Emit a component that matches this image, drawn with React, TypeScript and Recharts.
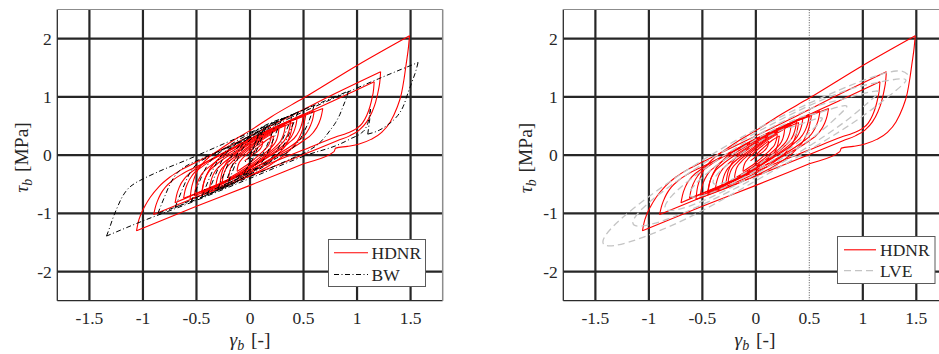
import React from 'react';
import { LineChart, Line, XAxis, YAxis, CartesianGrid, ReferenceLine } from 'recharts';

type Pt = [number, number];

// Axis setup
const xTicks = [-1.5, -1, -0.5, 0, 0.5, 1, 1.5];
const yTicks = [-2, -1, 0, 1, 2];
const xDomain: [number, number] = [-1.8, 1.8];
const yDomain: [number, number] = [-2.5, 2.5];

// HDNR response (gamma_b, tau_b), in time order
const hdnrGrowing: Pt[] = [
  [0, 0], [0.08, 0.14], [0.15, 0.25], [0.22, 0.33],
  [0.21, 0.22], [0.19, 0.1], [0.15, -0.01], [0.07, -0.14], [-0.09, -0.32], [-0.28, -0.48],
  [-0.266, -0.33], [-0.239, -0.19], [-0.185, -0.04], [-0.076, 0.12], [0.142, 0.35], [0.4, 0.56],
  [0.383, 0.39], [0.349, 0.22], [0.281, 0.05], [0.145, -0.15], [-0.127, -0.42], [-0.45, -0.66],
  [-0.431, -0.47], [-0.392, -0.29], [-0.314, -0.1], [-0.159, 0.12], [0.151, 0.41], [0.52, 0.68],
  [0.498, 0.48], [0.455, 0.28], [0.369, 0.08], [0.196, -0.16], [-0.15, -0.47], [-0.56, -0.76],
];

const hdnrLarge: Pt[] = [
  [-0.55, -0.6], [-0.53, -0.45], [-0.5, -0.3], [-0.45, -0.16], [-0.38, -0.03], [-0.28, 0.1],
  [-0.15, 0.26], [0, 0.42], [0.2, 0.66], [0.5, 0.98], [1.0, 1.54], [1.49, 2.05],
  [1.48, 1.85], [1.46, 1.58], [1.44, 1.32], [1.415, 1.06], [1.37, 0.8], [1.31, 0.57], [1.23, 0.39],
  [1.13, 0.27], [1.02, 0.19], [0.91, 0.15], [0.8, 0.12], [0.785, 0.06], [0.5, -0.15], [0, -0.52],
  [-0.5, -0.88], [-1.06, -1.3],
  [-1.045, -1.16], [-1.02, -1.02], [-0.98, -0.87], [-0.93, -0.72], [-0.85, -0.54], [-0.75, -0.38],
  [-0.62, -0.23], [-0.48, -0.1], [-0.3, 0.06], [0, 0.33], [0.4, 0.69], [0.8, 1.06], [1.22, 1.43],
  [1.215, 1.3], [1.2, 1.12], [1.175, 0.92], [1.14, 0.74], [1.09, 0.57], [1.02, 0.43], [0.93, 0.33],
  [0.82, 0.25], [0.5, 0.01], [0, -0.36], [-0.5, -0.72], [-0.9, -1.02],
  [-0.885, -0.9], [-0.865, -0.79], [-0.835, -0.67], [-0.79, -0.55], [-0.72, -0.43], [-0.63, -0.32],
  [-0.5, -0.2], [-0.3, -0.02], [0, 0.25], [0.4, 0.61], [0.8, 0.95], [1.16, 1.26],
  [1.155, 1.14], [1.14, 0.98], [1.12, 0.83], [1.09, 0.68], [1.05, 0.55], [0.99, 0.45], [0.91, 0.38],
  [0.8, 0.31], [0.5, 0.09], [0, -0.28], [-0.4, -0.58], [-0.7, -0.82],
];

const hdnrDecay: Pt[] = [
  [-0.686, -0.69], [-0.659, -0.545], [-0.603, -0.383], [-0.493, -0.221], [-0.217, 0.071], [0.197, 0.444], [0.68, 0.8],
  [0.667, 0.677], [0.641, 0.538], [0.589, 0.384], [0.485, 0.23], [0.225, -0.047], [-0.165, -0.401], [-0.62, -0.74],
  [-0.608, -0.62], [-0.583, -0.485], [-0.535, -0.335], [-0.437, -0.185], [-0.193, 0.085], [0.173, 0.43], [0.6, 0.76],
  [0.589, 0.643], [0.566, 0.512], [0.522, 0.366], [0.432, 0.22], [0.208, -0.043], [-0.128, -0.379], [-0.52, -0.7],
  [-0.51, -0.588], [-0.489, -0.462], [-0.449, -0.322], [-0.367, -0.182], [-0.163, 0.07], [0.143, 0.392], [0.5, 0.7],
  [0.491, 0.593], [0.472, 0.472], [0.434, 0.338], [0.358, 0.204], [0.168, -0.037], [-0.117, -0.345], [-0.45, -0.64],
  [-0.441, -0.538], [-0.423, -0.422], [-0.388, -0.294], [-0.316, -0.166], [-0.138, 0.064], [0.129, 0.358], [0.44, 0.64],
  [0.432, 0.541], [0.415, 0.429], [0.383, 0.305], [0.317, 0.181], [0.153, -0.042], [-0.093, -0.327], [-0.38, -0.6],
  [-0.372, -0.506], [-0.357, -0.399], [-0.327, -0.281], [-0.266, -0.163], [-0.114, 0.049], [0.114, 0.32], [0.38, 0.58],
  [0.373, 0.49], [0.359, 0.388], [0.331, 0.275], [0.275, 0.162], [0.135, -0.041], [-0.075, -0.301], [-0.32, -0.55],
  [-0.313, -0.464], [-0.3, -0.368], [-0.274, -0.261], [-0.222, -0.154], [-0.092, 0.039], [0.103, 0.285], [0.33, 0.52],
  [0.324, 0.44], [0.312, 0.35], [0.289, 0.25], [0.242, 0.15], [0.124, -0.03], [-0.053, -0.26], [-0.26, -0.48],
  [-0.255, -0.406], [-0.244, -0.322], [-0.223, -0.229], [-0.18, -0.136], [-0.074, 0.032], [0.085, 0.245], [0.27, 0.45],
  [0.265, 0.382], [0.256, 0.306], [0.237, 0.221], [0.2, 0.136], [0.106, -0.017], [-0.035, -0.213], [-0.2, -0.4],
  [-0.196, -0.339], [-0.188, -0.271], [-0.172, -0.195], [-0.14, -0.119], [-0.06, 0.018], [0.06, 0.193], [0.2, 0.36],
  [0.197, 0.309], [0.19, 0.251], [0.178, 0.187], [0.152, 0.123], [0.088, 0.008], [-0.008, -0.139], [-0.12, -0.28],
  [-0.118, -0.238], [-0.113, -0.192], [-0.103, -0.14], [-0.084, -0.088], [-0.036, 0.006], [0.036, 0.126], [0.12, 0.24],
  [0.115, 0.18], [0.1, 0.12], [0.07, 0.06], [0.02, 0], [-0.05, -0.1],
];

// Bouc-Wen model response
const bwGrowing: Pt[] = [
  [0, 0], [0.03, 0.14], [0.07, 0.29], [0.12, 0.42],
  [0.09, 0.28], [0.05, 0.1], [0, -0.12], [-0.05, -0.3], [-0.1, -0.42], [-0.17, -0.5], [-0.25, -0.57],
  [-0.22, -0.43], [-0.18, -0.25], [-0.14, -0.07], [-0.1, 0.09], [-0.05, 0.24], [0.02, 0.37], [0.1, 0.47], [0.2, 0.56], [0.3, 0.63],
  [0.27, 0.5], [0.23, 0.32], [0.19, 0.15], [0.15, -0.01], [0.1, -0.15], [0.04, -0.27], [-0.05, -0.38], [-0.2, -0.52], [-0.4, -0.68],
  [-0.37, -0.55], [-0.33, -0.37], [-0.29, -0.2], [-0.25, -0.05], [-0.2, 0.08], [-0.13, 0.19], [-0.04, 0.29], [0.1, 0.4], [0.25, 0.56], [0.45, 0.74],
  [0.42, 0.61], [0.38, 0.43], [0.34, 0.26], [0.3, 0.12], [0.25, -0.01], [0.18, -0.13], [0.08, -0.25], [-0.1, -0.42], [-0.3, -0.6], [-0.55, -0.8],
];

const bwLarge: Pt[] = [
  [-0.52, -0.67], [-0.48, -0.49], [-0.44, -0.32], [-0.4, -0.18], [-0.35, -0.06], [-0.28, 0.05], [-0.18, 0.15],
  [0, 0.3], [0.4, 0.66], [0.8, 0.99], [1.2, 1.31], [1.57, 1.59],
  [1.55, 1.45], [1.52, 1.29], [1.48, 1.09], [1.43, 0.83], [1.38, 0.68], [1.34, 0.6], [1.28, 0.51], [1.21, 0.43], [1.1, 0.36],
  [1.11, 0.5], [1.12, 0.65], [1.125, 0.79],
  [1.11, 0.62], [1.08, 0.46], [1.04, 0.38], [0.95, 0.29], [0.84, 0.19], [0.53, 0], [0, -0.4], [-0.6, -0.85], [-1.0, -1.13], [-1.34, -1.39],
  [-1.31, -1.24], [-1.28, -1.08], [-1.24, -0.9], [-1.2, -0.74], [-1.15, -0.6], [-1.08, -0.49], [-1.0, -0.41], [-0.85, -0.28],
  [-0.6, -0.09], [-0.2, 0.23], [0.3, 0.62], [0.92, 1.1],
  [0.9, 0.98], [0.87, 0.84], [0.84, 0.7], [0.8, 0.56], [0.75, 0.43], [0.7, 0.31], [0.65, 0.21], [0.56, 0.09], [0.4, -0.05],
  [0, -0.37], [-0.5, -0.76], [-0.86, -1.0],
  [-0.83, -0.86], [-0.79, -0.68], [-0.75, -0.51], [-0.71, -0.38], [-0.66, -0.27], [-0.58, -0.17], [-0.45, -0.06], [-0.2, 0.14], [0.2, 0.53], [0.6, 0.86],
  [0.58, 0.74], [0.55, 0.58], [0.51, 0.42], [0.47, 0.28], [0.42, 0.16], [0.35, 0.05], [0.25, -0.05], [0, -0.3], [-0.35, -0.6], [-0.7, -0.9],
];

const bwDecay: Pt[] = [
  [-0.67, -0.76], [-0.63, -0.58], [-0.59, -0.41], [-0.55, -0.27], [-0.5, -0.16], [-0.42, -0.06], [-0.3, 0.05], [-0.1, 0.27], [0.15, 0.5], [0.4, 0.7],
  [0.37, 0.56], [0.33, 0.38], [0.29, 0.21], [0.25, 0.07], [0.2, -0.05], [0.12, -0.16], [0, -0.28], [-0.2, -0.5], [-0.45, -0.72],
  [-0.42, -0.58], [-0.38, -0.4], [-0.34, -0.23], [-0.3, -0.09], [-0.25, 0.03], [-0.17, 0.14], [-0.05, 0.26], [0.1, 0.42], [0.25, 0.58],
  [0.22, 0.44], [0.18, 0.26], [0.14, 0.09], [0.1, -0.05], [0.05, -0.17], [-0.03, -0.29], [-0.15, -0.43], [-0.3, -0.58],
  [-0.27, -0.44], [-0.23, -0.26], [-0.19, -0.09], [-0.15, 0.05], [-0.1, 0.16], [-0.03, 0.27], [0.05, 0.37], [0.15, 0.48],
  [0.12, 0.34], [0.08, 0.16], [0.04, -0.01], [0, -0.15], [-0.05, -0.27], [-0.12, -0.37], [-0.2, -0.45],
  [-0.17, -0.31], [-0.13, -0.13], [-0.09, 0.04], [-0.05, 0.16], [0, 0.26], [0.08, 0.35],
  [0.05, 0.21], [0.02, 0.06], [-0.01, -0.05], [-0.05, -0.12],
];

// Linear viscoelastic model response (elliptic cycles, decaying)
const lveOuter: Pt[] = [
  [1.42, 1.385], [1.312, 1.444], [1.004, 1.283], [0.543, 0.927], [0, 0.44], [-0.547, -0.144],
  [-1.011, -0.728], [-1.321, -1.2], [-1.43, -1.49], [-1.321, -1.553], [-1.011, -1.38], [-0.547, -0.997],
  [0, -0.44], [0.543, 0.134], [1.004, 0.676], [1.312, 1.115], [1.38, 1.31],
];
const lveMiddle: Pt[] = [
  [1.062, 1.217], [0.813, 1.091], [0.44, 0.798], [0, 0.383], [-0.44, -0.088], [-0.813, -0.547],
  [-1.062, -0.922], [-1.15, -1.158], [-1.062, -1.217], [-0.813, -1.091], [-0.44, -0.798], [0, -0.383],
  [0.44, 0.088], [0.813, 0.547], [1.062, 0.922], [1.12, 1.1],
  [0.785, 0.949], [0.601, 0.862], [0.325, 0.642], [0, 0.326], [-0.325, -0.04], [-0.601, -0.4],
  [-0.785, -0.7], [-0.85, -0.892], [-0.785, -0.949], [-0.601, -0.862], [-0.325, -0.642], [0, -0.326],
  [0.325, 0.04], [0.601, 0.4], [0.785, 0.7], [0.83, 0.85],
];
const lveInner: Pt[] = [
  [0.573, 0.72], [0.438, 0.662], [0.237, 0.503], [0, 0.267], [-0.237, -0.009], [-0.438, -0.284],
  [-0.573, -0.516], [-0.62, -0.669], [-0.573, -0.72], [-0.438, -0.662], [-0.237, -0.503], [0, -0.267],
  [0.237, 0.009], [0.438, 0.284], [0.573, 0.516], [0.6, 0.64],
  [0.37, 0.5], [0.283, 0.463], [0.153, 0.356], [0, 0.195], [-0.153, 0.004], [-0.283, -0.188],
  [-0.37, -0.351], [-0.4, -0.461], [-0.37, -0.5], [-0.283, -0.463], [-0.153, -0.356], [0, -0.195],
  [0.153, -0.004], [0.283, 0.188], [0.37, 0.351], [0.4, 0.461],
];

type XY = { x: number; y: number };

// Break a response path into its loading / unloading branches (x monotone each)
function toBranches(path: Pt[]): XY[][] {
  const out: XY[][] = [];
  let cur: Pt[] = [path[0]];
  let dir = 0;
  for (let i = 1; i < path.length; i++) {
    const step = Math.sign(path[i][0] - path[i - 1][0]);
    if (dir !== 0 && step !== 0 && step !== dir) {
      out.push(cur.map(([x, y]) => ({ x, y })));
      cur = [path[i - 1]];
    }
    if (step !== 0) dir = step;
    cur.push(path[i]);
  }
  out.push(cur.map(([x, y]) => ({ x, y })));
  return out;
}

const hdnrBranches = toBranches([...hdnrGrowing, ...hdnrLarge, ...hdnrDecay]);
const bwBranches = toBranches([...bwGrowing, ...bwLarge, ...bwDecay]);
const lvePath: XY[] = [...lveOuter, ...lveMiddle, ...lveInner].map(([x, y]) => ({ x, y }));

const FONT = '"Liberation Serif", "Times New Roman", Times, serif';
const INK = '#262626';
const AXIS = '#2b2b2b';
const FRAME = '#8c8c8c';
const RED = '#ff0000';
const LVE_GRAY = '#c4c4c4';

const XTick = (props: any) => {
  const { x, y, payload } = props;
  return (
    <text x={x} y={y + 23.5} textAnchor="middle" fontFamily={FONT} fontSize={17.5} fill={INK}>
      {String(payload.value)}
    </text>
  );
};

const YTick = (props: any) => {
  const { x, y, payload } = props;
  return (
    <text x={x - 5.5} y={y + 6} textAnchor="end" fontFamily={FONT} fontSize={17.5} fill={INK}>
      {String(payload.value)}
    </text>
  );
};

const H = 354;
// Reserved sizes for the axes; the plot box itself is placed by margin + these
const Y_AXIS_W = 40;
const X_AXIS_H = 30;
const FRAME_AXIS = 2;

const hdnrLines = (prefix: string) =>
  hdnrBranches.map((b, i) => (
    <Line
      key={prefix + i}
      data={b}
      dataKey="y"
      type="monotoneX"
      stroke={RED}
      strokeWidth={1.1}
      dot={false}
      activeDot={false}
      isAnimationActive={false}
    />
  ));

const leftMargin = { top: 9.5 - FRAME_AXIS, right: 27.3 - FRAME_AXIS, bottom: 53.3 - X_AXIS_H, left: 57.3 - Y_AXIS_W };
const rightMargin = { top: 9.5 - FRAME_AXIS, right: 11.6 - FRAME_AXIS, bottom: 53.3 - X_AXIS_H, left: 93.3 - Y_AXIS_W };

const AxisTitle = ({ sym, unit }: { sym: string; unit: string }) => (
  <>
    <tspan fontStyle="italic">{sym}</tspan>
    <tspan fontStyle="italic" fontSize={14} dy={4}>b</tspan>
    <tspan dy={-4} dx={2}>{' ' + unit}</tspan>
  </>
);

export default function App() {
  return (
    <div style={{ position: 'absolute', left: 0, top: 0, width: 939, height: H, background: '#fff', overflow: 'hidden' }}>
      {/* Left panel: HDNR vs BW */}
      <div style={{ position: 'absolute', left: 0, top: 0 }}>
        <LineChart width={470} height={H} margin={leftMargin}>
          <CartesianGrid stroke={INK} strokeWidth={2.2} verticalValues={xTicks} horizontalValues={yTicks} />
          <XAxis dataKey="x" type="number" domain={xDomain} ticks={xTicks} interval={0} allowDataOverflow height={X_AXIS_H}
            tickSize={0} tickMargin={0} tickLine={false} axisLine={{ stroke: AXIS, strokeWidth: 1.3 }} tick={<XTick />} />
          <YAxis type="number" domain={yDomain} ticks={yTicks} interval={0} allowDataOverflow width={Y_AXIS_W}
            tickSize={0} tickMargin={0} tickLine={false} axisLine={{ stroke: AXIS, strokeWidth: 1.3 }} tick={<YTick />} />
          <XAxis xAxisId="top" orientation="top" type="number" domain={xDomain} allowDataOverflow height={FRAME_AXIS}
            tick={false} tickLine={false} axisLine={{ stroke: FRAME, strokeWidth: 1 }} />
          <YAxis yAxisId="right" orientation="right" type="number" domain={yDomain} allowDataOverflow width={FRAME_AXIS}
            tick={false} tickLine={false} axisLine={{ stroke: FRAME, strokeWidth: 1.5 }} />
          {hdnrLines('hl')}
          {bwBranches.map((b, i) => (
            <Line key={'bw' + i} data={b} dataKey="y" type="monotoneX" stroke="#000" strokeWidth={1}
              strokeDasharray="5 2.5 1 2.5" dot={false} activeDot={false} isAnimationActive={false} />
          ))}
        </LineChart>
      </div>

      {/* Right panel: HDNR vs LVE */}
      <div style={{ position: 'absolute', left: 470, top: 0, width: 469, height: H, overflow: 'hidden' }}>
        <LineChart width={490} height={H} margin={rightMargin}>
          <CartesianGrid stroke={INK} strokeWidth={2.2} verticalValues={[-1.5, -1, -0.5, 0, 1, 1.5]} horizontalValues={yTicks} />
          <XAxis dataKey="x" type="number" domain={xDomain} ticks={xTicks} interval={0} allowDataOverflow height={X_AXIS_H}
            tickSize={0} tickMargin={0} tickLine={false} axisLine={{ stroke: AXIS, strokeWidth: 1.3 }} tick={<XTick />} />
          <YAxis type="number" domain={yDomain} ticks={yTicks} interval={0} allowDataOverflow width={Y_AXIS_W}
            tickSize={0} tickMargin={0} tickLine={false} axisLine={{ stroke: AXIS, strokeWidth: 1.3 }} tick={<YTick />} />
          <XAxis xAxisId="top" orientation="top" type="number" domain={xDomain} allowDataOverflow height={FRAME_AXIS}
            tick={false} tickLine={false} axisLine={{ stroke: FRAME, strokeWidth: 1 }} />
          <YAxis yAxisId="right" orientation="right" type="number" domain={yDomain} allowDataOverflow width={FRAME_AXIS}
            tick={false} tickLine={false} axisLine={{ stroke: FRAME, strokeWidth: 1.5 }} />
          <ReferenceLine x={0.5} stroke="#6a6a6a" strokeWidth={1.2} strokeDasharray="1 1.5" />
          {hdnrLines('hr')}
          <Line data={lvePath} dataKey="y" type="natural" stroke={LVE_GRAY} strokeWidth={1.3}
            strokeDasharray="7 4" dot={false} activeDot={false} isAnimationActive={false} />
        </LineChart>
      </div>

      {/* Axis titles and legends */}
      <svg width={939} height={H} style={{ position: 'absolute', left: 0, top: 0, pointerEvents: 'none' }}>
        <g fontFamily={FONT} fill={INK} fontSize={19.5}>
          <text x={250} y={346} textAnchor="middle"><AxisTitle sym="γ" unit="[-]" /></text>
          <text x={755} y={346} textAnchor="middle"><AxisTitle sym="γ" unit="[-]" /></text>
          <text transform="translate(28,157.5) rotate(-90)" textAnchor="middle"><AxisTitle sym="τ" unit="[MPa]" /></text>
          <text transform="translate(532,158) rotate(-90)" textAnchor="middle"><AxisTitle sym="τ" unit="[MPa]" /></text>
        </g>

        <g fontFamily={FONT} fill={INK} fontSize={17.5}>
          <rect x={328.5} y={239.5} width={97} height={47} fill="#fff" stroke="#5a5a5a" strokeWidth={1} />
          <line x1={334} x2={368} y1={252.7} y2={252.7} stroke={RED} strokeWidth={1.1} />
          <text x={371.5} y={259}>HDNR</text>
          <line x1={334} x2={368} y1={274.5} y2={274.5} stroke="#000" strokeWidth={1} strokeDasharray="5 2.5 1 2.5" />
          <text x={371.5} y={280.5}>BW</text>

          <rect x={837.5} y={236.5} width={97.5} height={47} fill="#fff" stroke="#5a5a5a" strokeWidth={1} />
          <line x1={844} x2={876} y1={249.8} y2={249.8} stroke={RED} strokeWidth={1.1} />
          <text x={880} y={255.8}>HDNR</text>
          <line x1={844} x2={876} y1={270.7} y2={270.7} stroke={LVE_GRAY} strokeWidth={1.3} strokeDasharray="7 4" />
          <text x={880} y={277.3}>LVE</text>
        </g>
      </svg>
    </div>
  );
}
